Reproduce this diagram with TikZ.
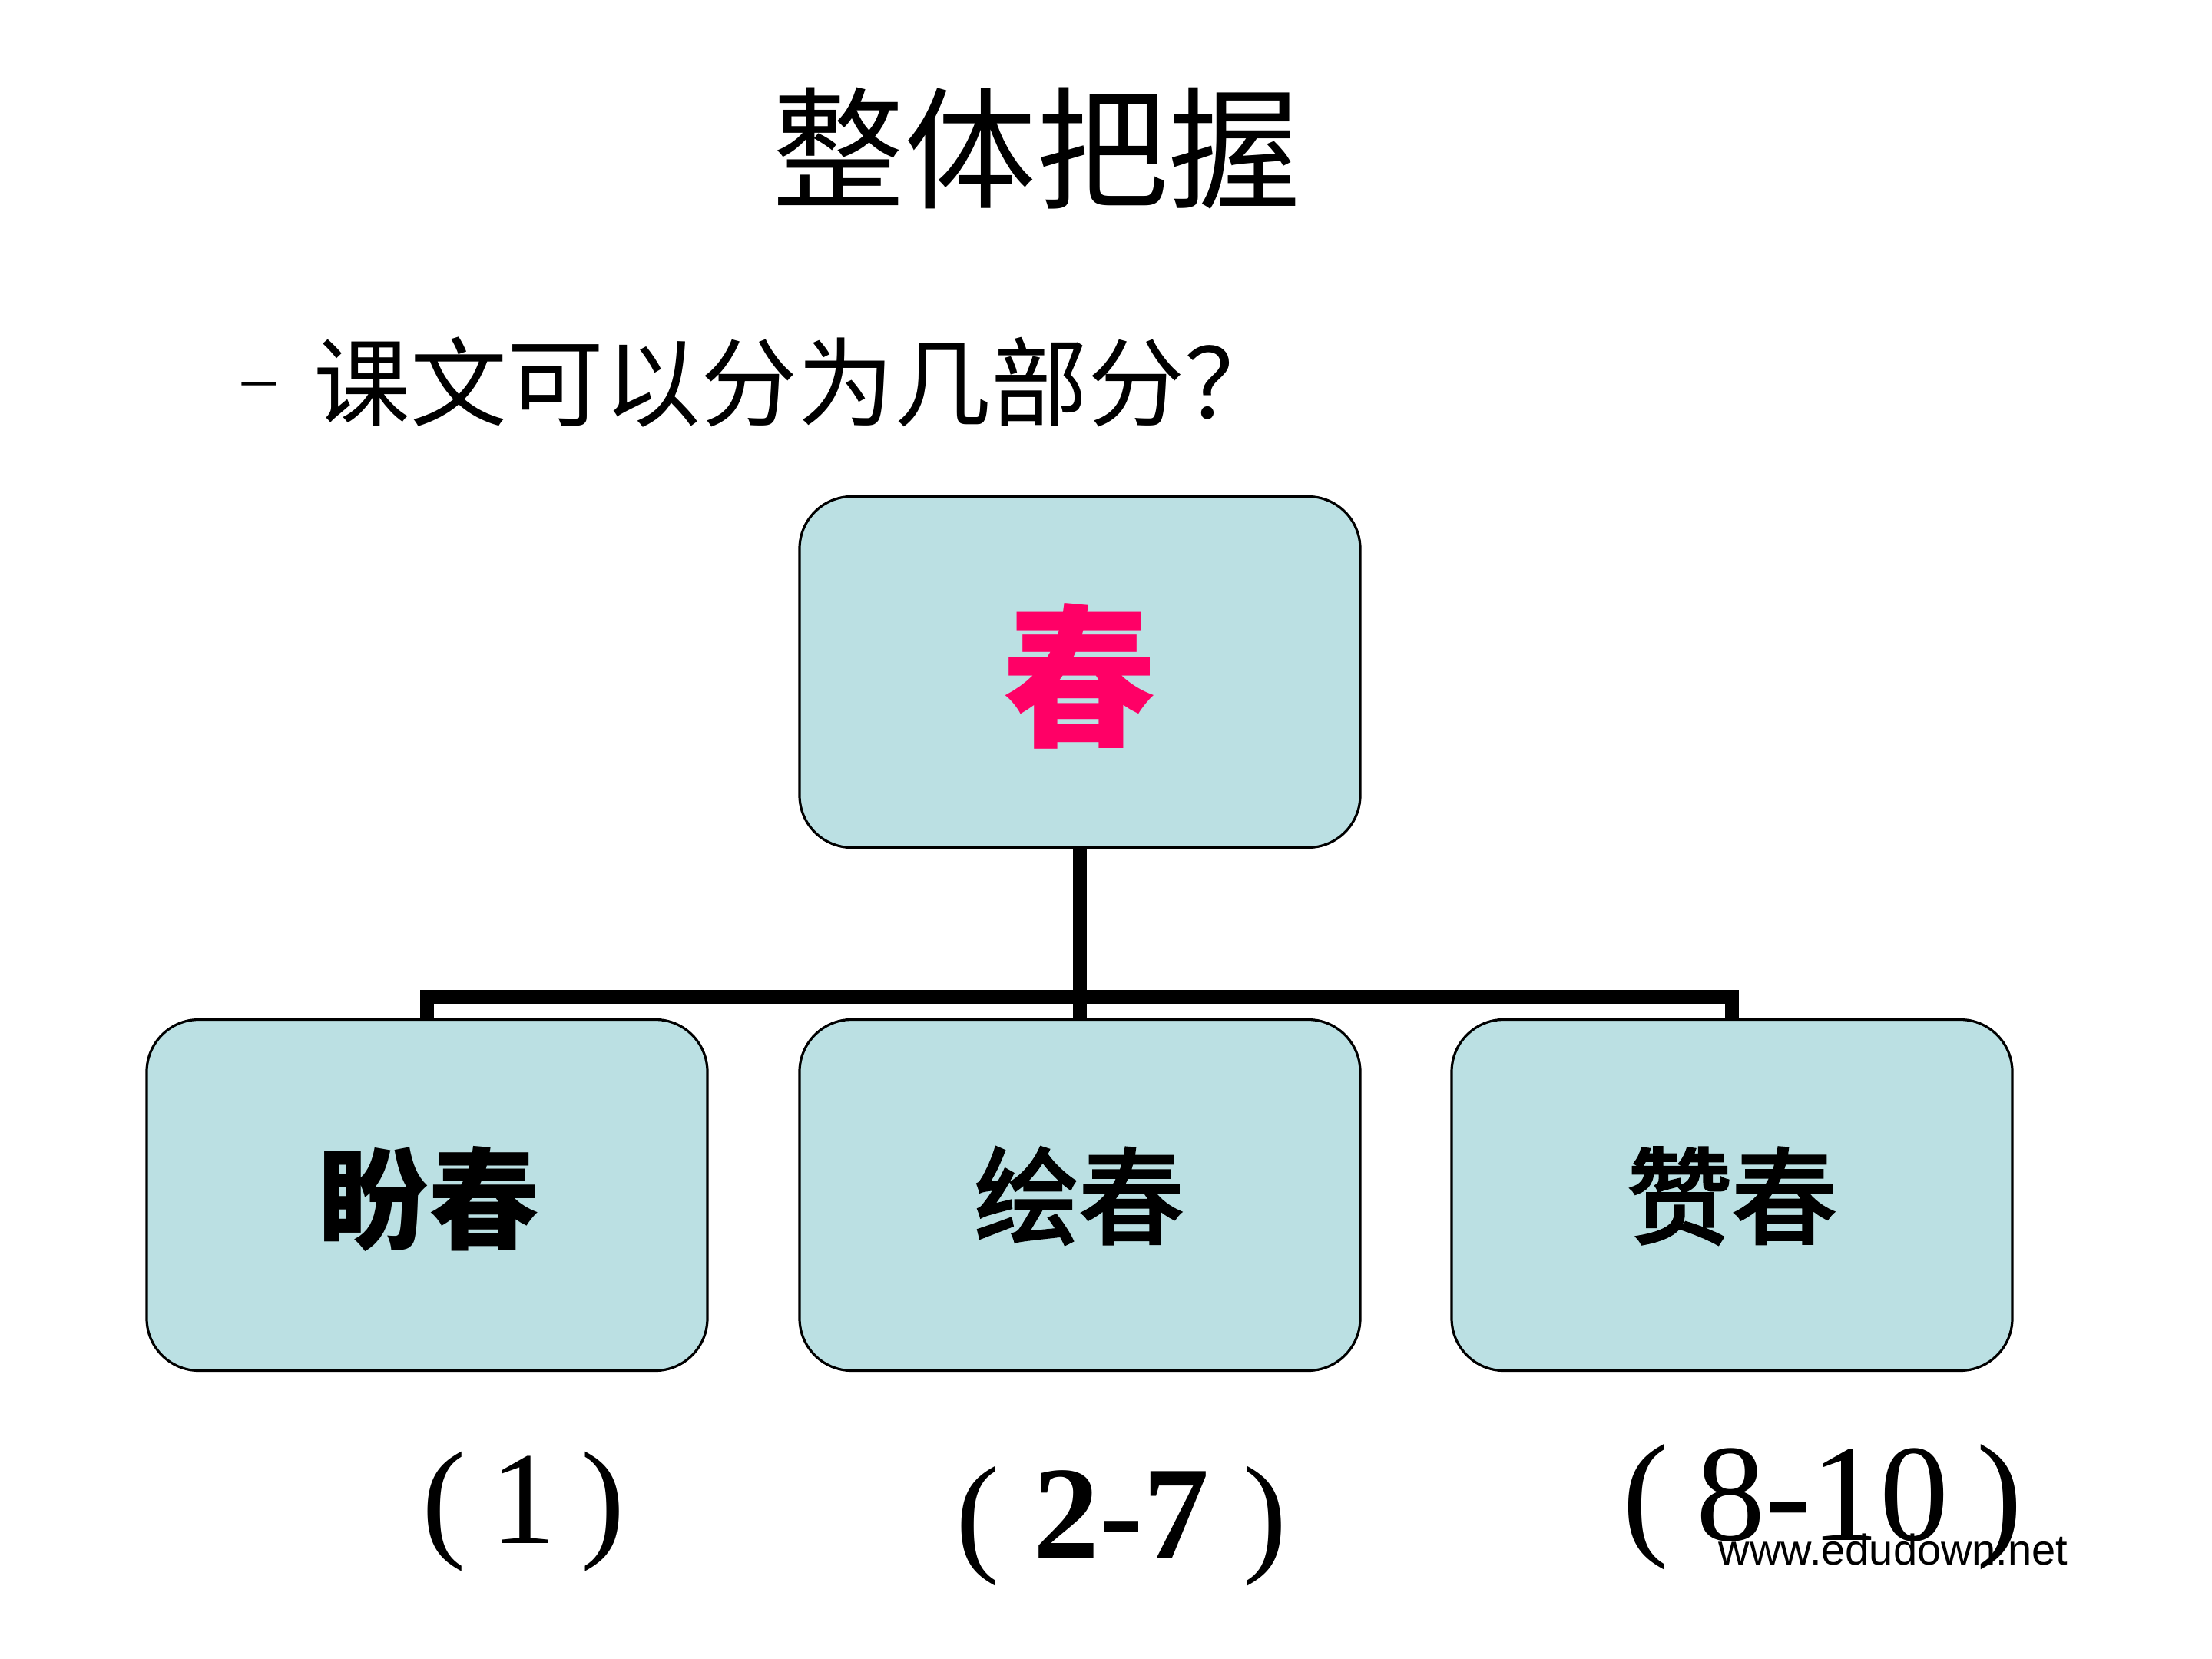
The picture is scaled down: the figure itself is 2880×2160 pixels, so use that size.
\documentclass[tikz,border=0pt]{standalone}
\usepackage{fontspec}
\newfontfamily\cjk{Noto Sans CJK SC}
\newfontfamily\cjkmed[FakeBold=3]{Noto Sans CJK SC}
\newfontfamily\serif{Liberation Serif}
\newfontfamily\wsans{Liberation Sans}
\definecolor{boxfill}{RGB}{187,224,227}
\definecolor{chunred}{RGB}{255,0,102}
\tikzset{
  partbox/.style={draw=black, line width=0.8pt, fill=boxfill, rounded corners=17pt,
    minimum width=182.5pt, minimum height=114.25pt, inner sep=0pt},
  conn/.style={line width=4.5pt, line join=miter},
  plain/.style={inner sep=0pt, text=black},
}
\begin{document}
\begin{tikzpicture}[x=0.25pt,y=-0.25pt]
\useasboundingbox[fill=white] (0,0) rectangle (2880,2160);

% title and question
\node[plain, font=\cjk\fontsize{43}{43}\selectfont] (title) at (1349,193) {整体把握};
\node[plain, font=\serif\fontsize{22}{22}\selectfont] (dash) at (337,509) {–};
\node[plain, anchor=west, font=\cjk\fontsize{31.5}{31.5}\selectfont] (question) at (408,498) {课文可以分为几部分？};

% boxes
\node[partbox] (top) at (1406,875) {};
\node[plain, font=\cjk\bfseries\fontsize{50}{50}\selectfont, text=chunred] (toplabel) at (1405,880) {春};

\node[partbox] (left) at (556,1556) {};
\node[partbox] (mid) at (1406,1556) {};
\node[partbox] (right) at (2255,1556) {};

\node[plain, font=\cjk\bfseries\fontsize{36}{36}\selectfont] (leftlabel) at (558,1561) {盼春};
\node[plain, font=\cjkmed\fontsize{34}{34}\selectfont] (midlabel) at (1405,1557) {绘春};
\node[plain, font=\cjkmed\fontsize{34}{34}\selectfont] (rightlabel) at (2255,1557) {赞春};

% connectors
\coordinate (j) at ([yshift=-48.25pt]top.south);
\draw[conn] (top.south) -- (j);
\draw[conn] (left.north) |- (j) -| (right.north);
\draw[conn] (j) -- (mid.north);

% paragraph ranges
\node[plain, font=\serif\fontsize{43}{43}\selectfont] (r1) at (682,1968) {(\hspace{8pt}1\hspace{8pt})};
\node[plain, font=\serif\fontsize{43}{43}\selectfont] (r2) at (1460,1987) {(\hspace{11pt}{\bfseries 2-7}\hspace{11pt})};
\node[plain, font=\serif\fontsize{45}{45}\selectfont] (r3) at (2373,1962) {(\hspace{9pt}8-10\hspace{9pt})};

% watermark
\node[plain, anchor=base west, font=\wsans\fontsize{14}{14}\selectfont] (wm) at (2237,2037) {www.edudown.net};
\end{tikzpicture}
\end{document}
